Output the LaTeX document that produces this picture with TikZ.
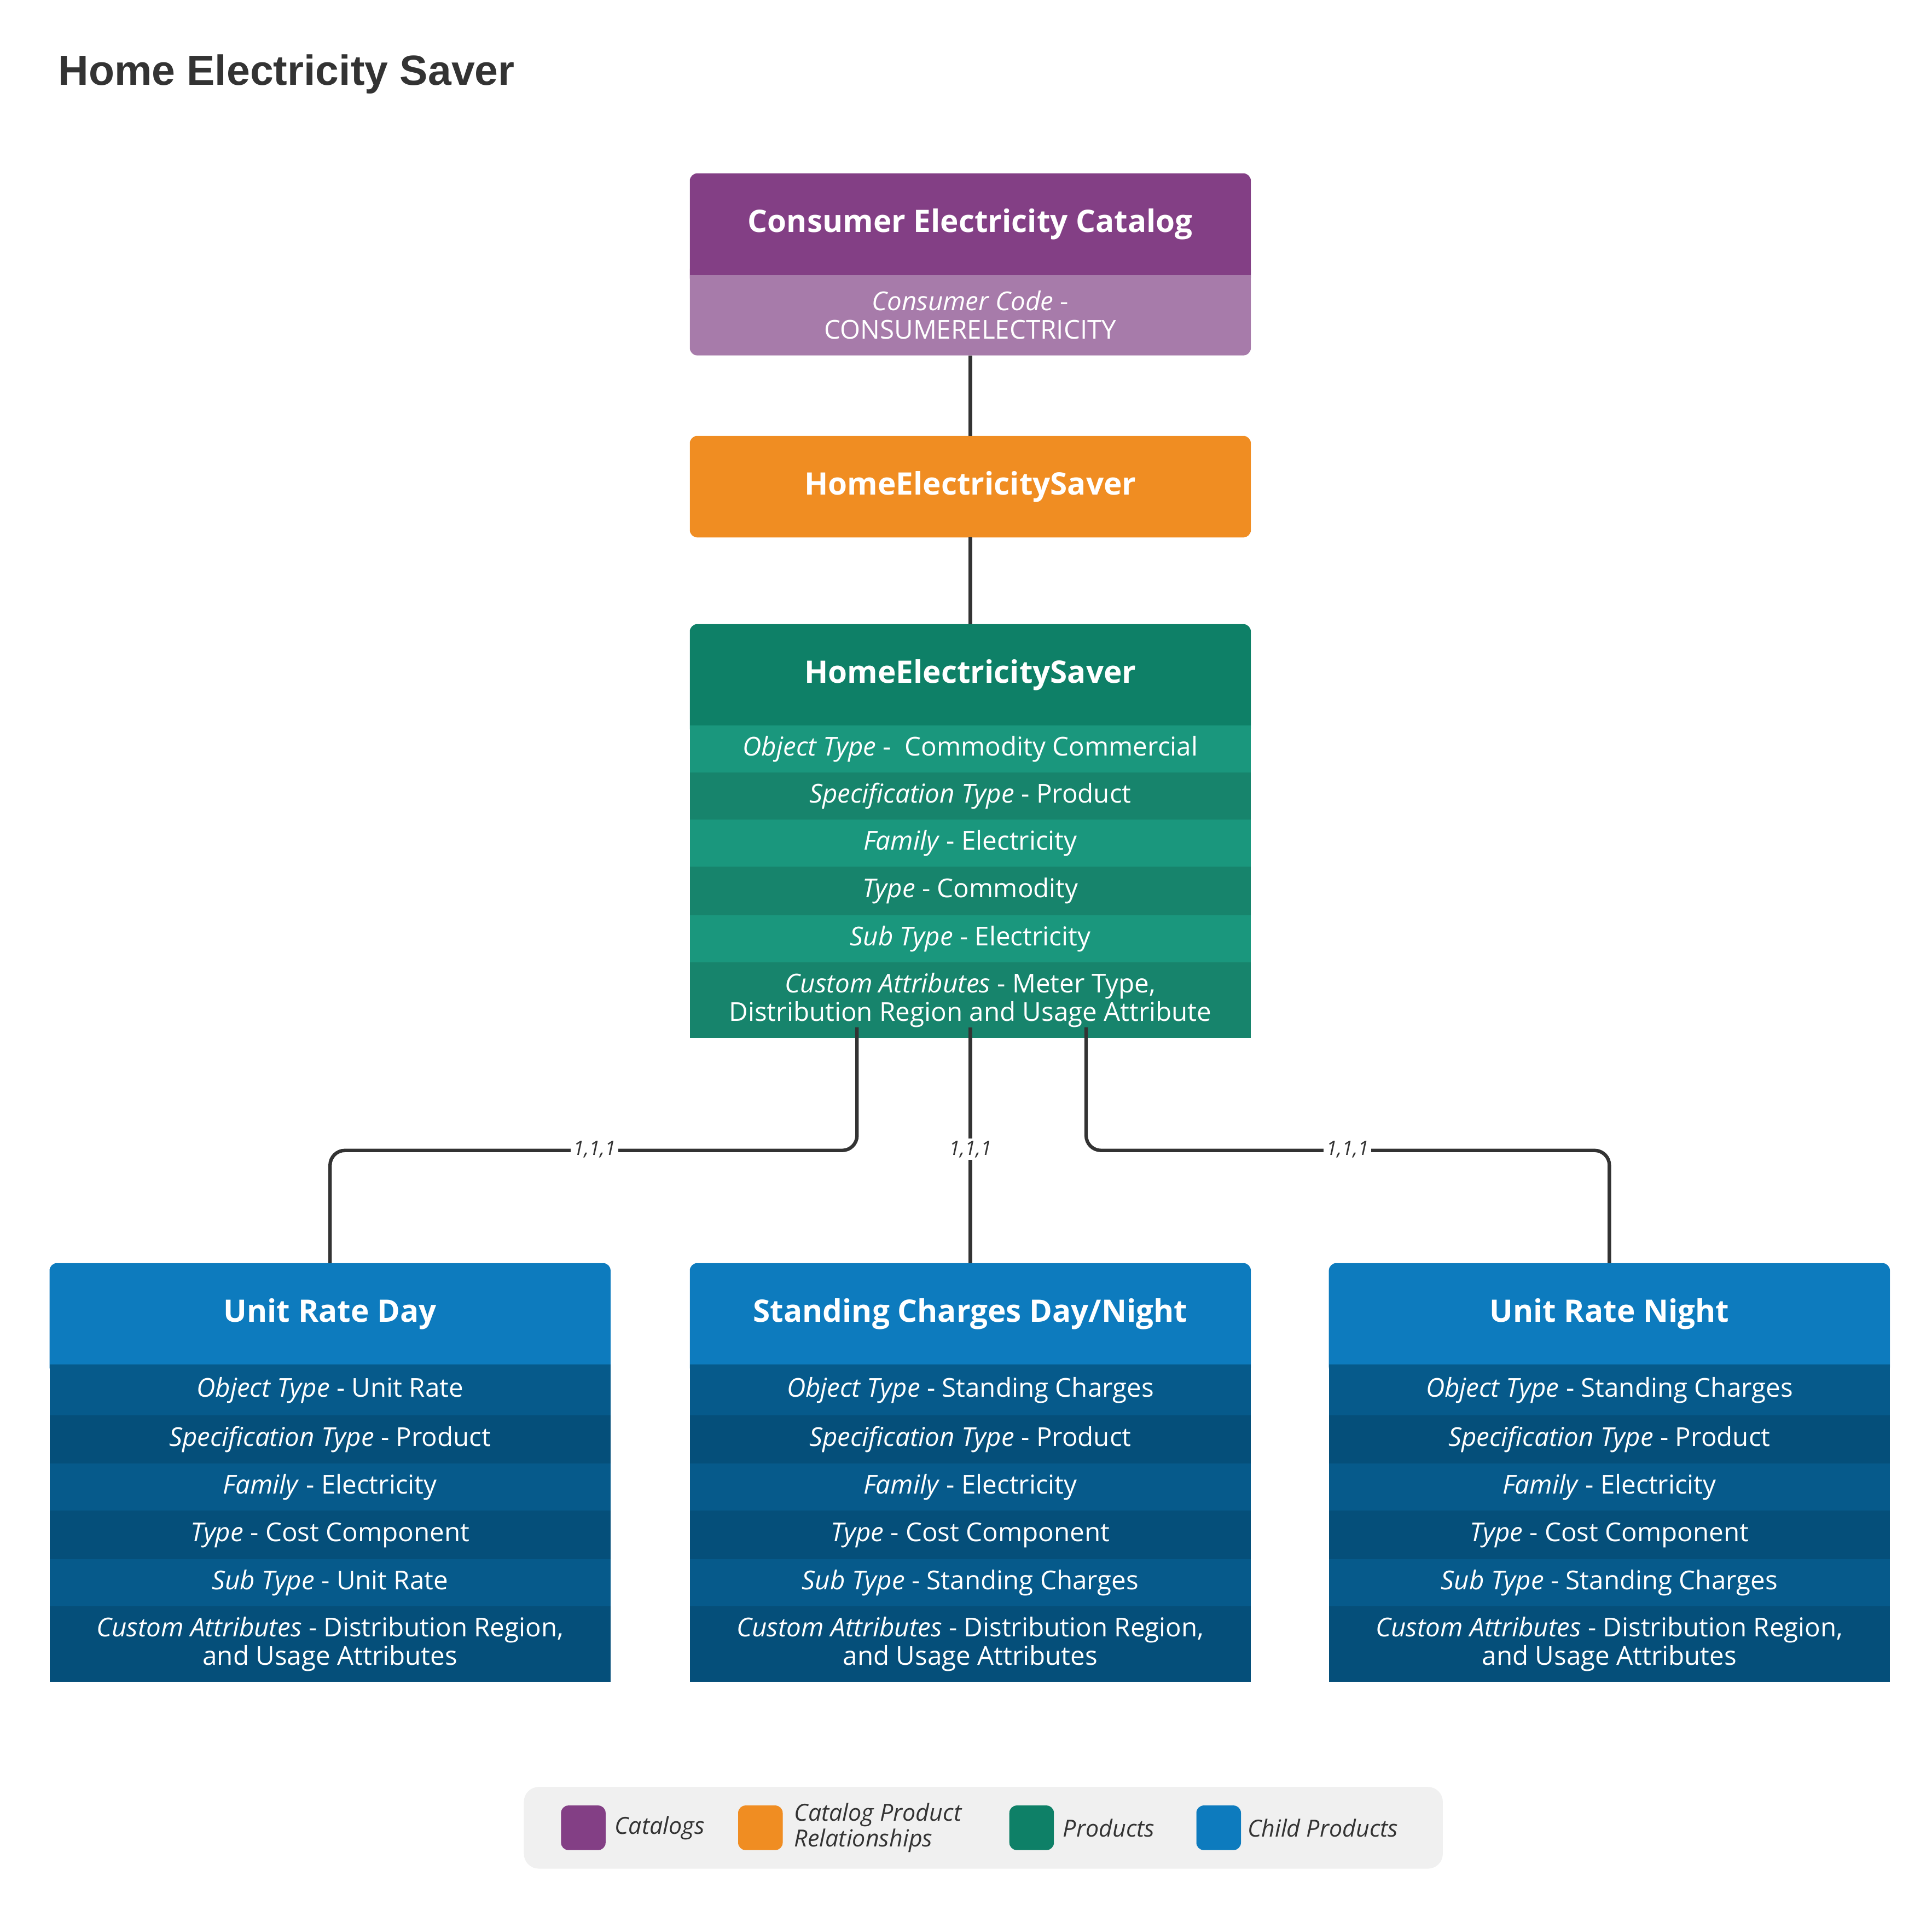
\documentclass[tikz,border=0pt]{standalone}
\usepackage{fontspec}
\setmainfont{Open Sans}
\newfontfamily\titlefont{Liberation Sans}
\definecolor{pur}{HTML}{833F85}
\definecolor{purl}{HTML}{A77BAA}
\definecolor{ora}{HTML}{F08D22}
\definecolor{grh}{HTML}{0E8067}
\definecolor{grA}{HTML}{1A977D}
\definecolor{grB}{HTML}{17846C}
\definecolor{blh}{HTML}{0D7BBE}
\definecolor{blA}{HTML}{065A8B}
\definecolor{blB}{HTML}{054F7A}
\definecolor{lgbg}{HTML}{F0F0F0}
\definecolor{ink}{HTML}{333333}
\newcommand\hdr[6]{\fill[#5,rounded corners=3pt] (#2,#3) rectangle ++(453,#4-#3+8);
  \node[hd] (#1) at (#2+226.5,{(#3+#4)/2}) {#6};}
\newcommand\rw[6]{\fill[#5] (#2,#3) rectangle ++(453,#4-#3);
  \node[rt] (#1) at (#2+226.5,{(#3+#4)/2}) {#6};}
\newcommand\childbox[5]{%
  \hdr{#1h}{#2}{1020}{1102}{blh}{#3}
  \rw{#1a}{#2}{1102}{1143}{blA}{\textit{Object Type} - #4}
  \rw{#1b}{#2}{1143}{1182}{blB}{\textit{Specification Type} - Product}
  \rw{#1c}{#2}{1182}{1220}{blA}{\textit{Family} - Electricity}
  \rw{#1d}{#2}{1220}{1259}{blB}{\textit{Type} - Cost Component}
  \rw{#1e}{#2}{1259}{1297}{blA}{\textit{Sub Type} - #5}
  \rw{#1f}{#2}{1297}{1358}{blB}{\textit{Custom Attributes} - Distribution Region,\\and Usage Attributes}}
\begin{document}
\begin{tikzpicture}[x=0.5pt,y=-0.5pt,
  hd/.style={text=white,font=\fontsize{12.5}{14}\selectfont\bfseries,inner sep=0,outer sep=0,minimum width=226.5pt,minimum height=41pt},
  rt/.style={text=white,font=\fontsize{10.5}{11.5}\selectfont,align=center,inner sep=0,outer sep=0},
  conn/.style={draw=ink,line width=1.4pt,rounded corners=6pt},
  lab/.style={fill=white,inner sep=1pt,text=ink,font=\fontsize{8}{9}\selectfont\itshape},
  lg/.style={anchor=west,text=ink,font=\fontsize{9.5}{10.5}\selectfont\itshape,align=left,inner sep=0}]
\useasboundingbox (0,0) rectangle (1560,1543);
\node[anchor=west,text=ink,font=\titlefont\fontsize{17}{20}\selectfont\bfseries] (title) at (40,60) {Home Electricity Saver};
% catalog
\fill[purl,rounded corners=3pt] (557,212) rectangle (1010,287);
\hdr{cat}{557}{140}{222}{pur}{Consumer Electricity Catalog}
\fill[purl] (557,222) rectangle (1010,270);
\node[rt,minimum width=226.5pt,minimum height=32.5pt] (cats) at (783.5,254.5) {\textit{Consumer Code} -\\CONSUMERELECTRICITY};
% orange
\fill[ora,rounded corners=3pt] (557,352) rectangle (1010,434);
\node[hd] (rel) at (783.5,393) {HomeElectricitySaver};
% green
\hdr{prod}{557}{504}{586}{grh}{HomeElectricitySaver}
\rw{g1}{557}{586}{624}{grA}{\textit{Object Type} -\ \ Commodity Commercial}
\rw{g2}{557}{624}{662}{grB}{\textit{Specification Type} - Product}
\rw{g3}{557}{662}{700}{grA}{\textit{Family} - Electricity}
\rw{g4}{557}{700}{739}{grB}{\textit{Type} - Commodity}
\rw{g5}{557}{739}{777}{grA}{\textit{Sub Type} - Electricity}
\rw{g6}{557}{777}{838}{grB}{\textit{Custom Attributes} - Meter Type,\\Distribution Region and Usage Attribute}
% children
\childbox{u}{40}{Unit Rate Day}{Unit Rate}{Unit Rate}
\childbox{s}{557}{Standing Charges Day/Night}{Standing Charges}{Standing Charges}
\childbox{n}{1073}{Unit Rate Night}{Standing Charges}{Standing Charges}
% connectors
\draw[conn] (cats.south) -- (rel.north);
\draw[conn] (rel.south) -- (prod.north);
\coordinate (k1) at (692,929);
\coordinate (k3) at (877,929);
\draw[conn] (k1 |- g6.south) -- (k1) -| (uh.north);
\draw[conn] (g6.south) -- (sh.north);
\draw[conn] (k3 |- g6.south) -- (k3) -| (nh.north);
\node[lab] (l1) at (480,928) {1,1,1};
\node[lab] (l2) at (783.5,928) {1,1,1};
\node[lab] (l3) at (1088,928) {1,1,1};
% legend
\fill[lgbg,rounded corners=6pt] (423,1443) rectangle (1165,1509);
\fill[pur,rounded corners=3pt] (453,1458) rectangle ++(36,36);
\node[lg] (lg1) at (496,1476) {Catalogs};
\fill[ora,rounded corners=3pt] (596,1458) rectangle ++(36,36);
\node[lg] (lg2) at (641,1476) {Catalog Product\\Relationships};
\fill[grh,rounded corners=3pt] (815,1458) rectangle ++(36,36);
\node[lg] (lg3) at (858,1476) {Products};
\fill[blh,rounded corners=3pt] (966,1458) rectangle ++(36,36);
\node[lg] (lg4) at (1007,1476) {Child Products};
\end{tikzpicture}
\end{document}
